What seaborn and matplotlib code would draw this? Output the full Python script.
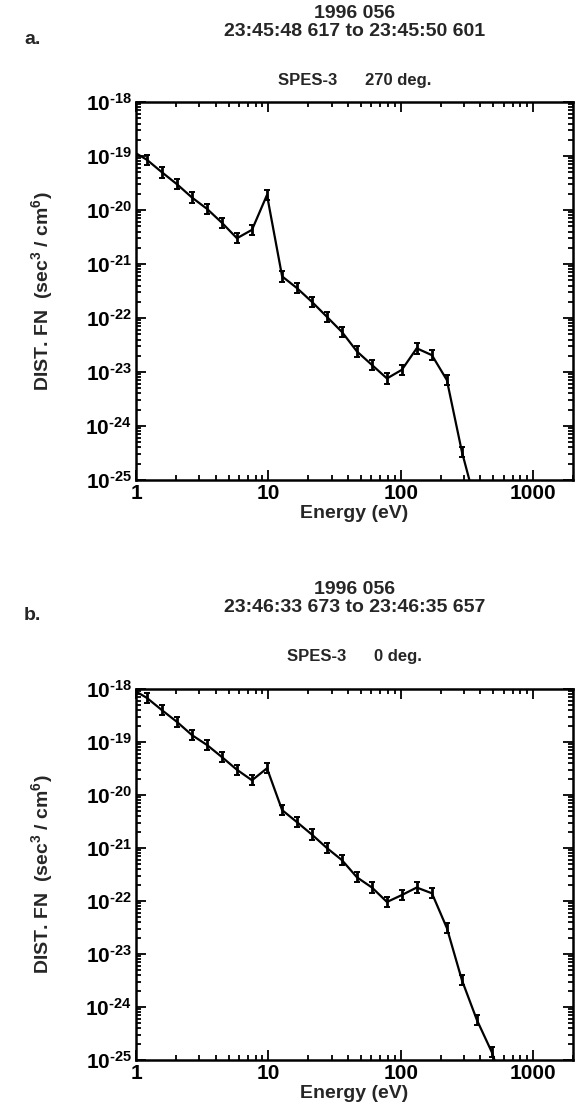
import numpy as np
import pandas as pd
import seaborn as sns
import matplotlib.pyplot as plt
from matplotlib.ticker import LogLocator, FixedLocator, FixedFormatter, NullFormatter

# Energy channels (eV), shared by both spectra
energy = [0.93, 1.21, 1.57, 2.04, 2.65, 3.44, 4.46, 5.79, 7.52, 9.76, 12.7, 16.4,
          21.3, 27.7, 36.0, 46.7, 60.6, 78.7, 102, 132, 172, 223, 290, 376, 488, 634]

# Panel a: 270 deg.
dist_a = [1.25e-19, 8.5e-20, 5.0e-20, 3.0e-20, 1.7e-20, 1.05e-20, 5.8e-21, 3.0e-21,
          4.3e-21, 1.9e-20, 5.9e-22, 3.6e-22, 2.0e-22, 1.05e-22, 5.5e-23, 2.4e-23,
          1.35e-23, 7.6e-24, 1.1e-23, 2.75e-23, 2.05e-23, 7.1e-24, 3.3e-25, 3.0e-26]

# Panel b: 0 deg.
dist_b = [1.0e-18, 6.8e-19, 4.0e-19, 2.4e-19, 1.35e-19, 8.8e-20, 5.2e-20, 3.0e-20,
          1.9e-20, 3.2e-20, 5.2e-21, 3.1e-21, 1.8e-21, 1.0e-21, 5.9e-22, 2.8e-22,
          1.8e-22, 9.6e-23, 1.3e-22, 1.8e-22, 1.4e-22, 3.1e-23, 3.2e-24, 5.7e-25,
          1.4e-25, 2.0e-26]

x_ticks = [1, 10, 100, 1000]
x_tick_labels = ['1', '10', '100', '1000']
y_ticks = [1e-18, 1e-19, 1e-20, 1e-21, 1e-22, 1e-23, 1e-24, 1e-25]
y_tick_labels = ['10$^{\\mathregular{\u2010%d}}$' % k for k in range(18, 26)]

panels = [
    {'letter': 'a.', 'time': '23:45:48 617 to 23:45:50 601', 'angle': '270 deg.',
     'dist': dist_a, 'rect': [0.2353, 0.5695, 0.756, 0.339],
     'y_date': 14, 'y_time': 32, 'y_spes': 80},
    {'letter': 'b.', 'time': '23:46:33 673 to 23:46:35 657', 'angle': '0 deg.',
     'dist': dist_b, 'rect': [0.2353, 0.0493, 0.756, 0.3327],
     'y_date': 590, 'y_time': 607, 'y_spes': 657},
]

sns.set_style('ticks')
plt.rcParams['font.family'] = ['Liberation Sans', 'DejaVu Sans']
plt.rcParams['font.weight'] = 'bold'
plt.rcParams['axes.labelweight'] = 'bold'
plt.rcParams['mathtext.fontset'] = 'custom'
plt.rcParams['mathtext.rm'] = 'Liberation Sans:bold'
plt.rcParams['mathtext.it'] = 'Liberation Sans:bold'
plt.rcParams['mathtext.bf'] = 'Liberation Sans:bold'

W, H = 578, 1115
fig = plt.figure(figsize=(W / 100, H / 100), dpi=100)

for p in panels:
    df = pd.DataFrame({'Energy': energy[:len(p['dist'])], 'Dist': p['dist']})
    ax = fig.add_axes(p['rect'])
    sns.lineplot(data=df, x='Energy', y='Dist', color='black', lw=1.6, ax=ax)
    lo = df['Dist'] - df['Dist'] / 1.25
    hi = df['Dist'] * 1.25 - df['Dist']
    ax.errorbar(df['Energy'], df['Dist'], yerr=[lo, hi], fmt='none',
                ecolor='black', elinewidth=2.0, capsize=2.0, capthick=1.4)
    ax.set_xscale('log')
    ax.set_yscale('log')
    ax.set_xlim(1, 2000)
    ax.set_ylim(1e-25, 1e-18)

    ax.xaxis.set_major_locator(FixedLocator(x_ticks))
    ax.xaxis.set_major_formatter(FixedFormatter(x_tick_labels))
    ax.xaxis.set_minor_locator(LogLocator(base=10, subs=np.arange(2, 10)))
    ax.xaxis.set_minor_formatter(NullFormatter())
    ax.yaxis.set_major_locator(FixedLocator(y_ticks))
    ax.yaxis.set_major_formatter(FixedFormatter(y_tick_labels))
    ax.yaxis.set_minor_locator(LogLocator(base=10, subs=np.arange(2, 10)))
    ax.yaxis.set_minor_formatter(NullFormatter())
    ax.tick_params(which='both', direction='in', top=True, right=True,
                   labelsize=15, width=1.3, colors='black')
    ax.tick_params(which='major', length=7, pad=3)
    ax.tick_params(which='minor', length=3.5)
    for s in ax.spines.values():
        s.set_linewidth(1.8)
        s.set_color('black')

    ax.set_xlabel('Energy (eV)', fontsize=14, labelpad=1)
    ax.set_ylabel(r'DIST. FN  (sec$^3$ / cm$^6$)', fontsize=14, labelpad=22)

    fig.text(0.056, 1 - (p['y_time'] + 8) / H, p['letter'], fontsize=14,
             fontweight='bold', ha='center', va='center')
    fig.text(0.614, 1 - p['y_date'] / H, '1996 056', fontsize=14,
             ha='center', va='center')
    fig.text(0.614, 1 - p['y_time'] / H, p['time'], fontsize=14,
             ha='center', va='center')
    fig.text(0.614, 1 - p['y_spes'] / H, 'SPES-3      ' + p['angle'], fontsize=12,
             fontweight='bold', ha='center', va='center')

fig.savefig('out.png', dpi=100)
